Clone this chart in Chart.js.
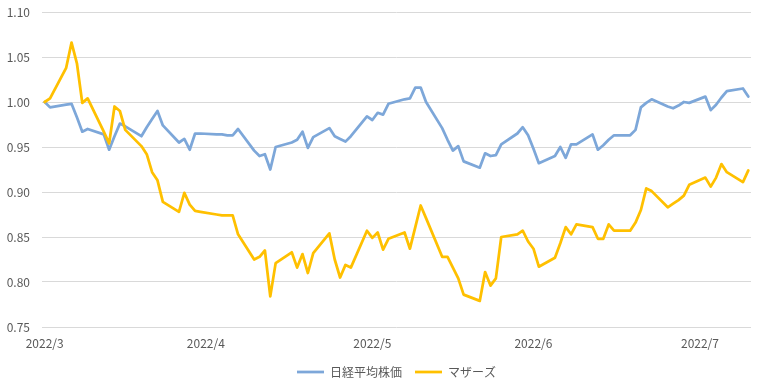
<!DOCTYPE html>
<html>
<head>
<meta charset="utf-8">
<script src="https://cdn.jsdelivr.net/npm/chart.js@4.4.1/dist/chart.umd.min.js"></script>
<style>
  body { margin: 0; background: #fff; }
</style>
</head>
<body>
<canvas id="myChart" width="760" height="392"></canvas>
<script>
// days since 2022/3/1
const days = [0, 1, 4, 5, 6, 7, 8, 11, 12, 13, 14, 15, 18, 19, 20, 21, 22, 25, 26, 27, 28, 29,
    32, 33, 34, 35, 36, 39, 40, 41, 42, 43, 46, 47, 48, 49, 50, 53, 54, 55, 56, 57,
    60, 61, 62, 63, 64, 67, 68, 69, 70, 71, 74, 75, 76, 77, 78, 81, 82, 83, 84, 85,
    88, 89, 90, 91, 92, 95, 96, 97, 98, 99, 102, 103, 104, 105, 106, 109, 110, 111, 112, 113,
    116, 117, 118, 119, 120, 123, 124, 125, 126, 127, 130, 131];

const nikkei = [1.000, 0.994, 0.997, 0.998, 0.983, 0.967, 0.970, 0.964, 0.947, 0.962, 0.976, 0.973,
    0.962, 0.972, 0.981, 0.990, 0.974, 0.955, 0.959, 0.947, 0.965, 0.965,
    0.964, 0.964, 0.963, 0.963, 0.970, 0.946, 0.940, 0.942, 0.925, 0.950,
    0.955, 0.958, 0.967, 0.949, 0.961, 0.971, 0.962, 0.959, 0.956, 0.962,
    0.984, 0.980, 0.988, 0.986, 0.998, 1.003, 1.004, 1.016, 1.016, 1.000,
    0.971, 0.958, 0.946, 0.951, 0.934, 0.927, 0.943, 0.940, 0.941, 0.953,
    0.965, 0.972, 0.963, 0.948, 0.932, 0.940, 0.950, 0.938, 0.953, 0.953,
    0.964, 0.947, 0.952, 0.958, 0.963, 0.963, 0.969, 0.994, 0.999, 1.003,
    0.995, 0.993, 0.996, 1.000, 0.999, 1.006, 0.991, 0.997, 1.005, 1.012, 1.015, 1.006];

const mothers = [1.000, 1.004, 1.038, 1.066, 1.043, 0.999, 1.004, 0.967, 0.954, 0.995, 0.990, 0.969,
    0.951, 0.942, 0.922, 0.913, 0.889, 0.878, 0.899, 0.886, 0.879, 0.878,
    0.875, 0.874, 0.874, 0.874, 0.853, 0.825, 0.828, 0.835, 0.784, 0.821,
    0.833, 0.816, 0.831, 0.810, 0.832, 0.854, 0.825, 0.805, 0.819, 0.816,
    0.857, 0.849, 0.855, 0.836, 0.848, 0.855, 0.837, 0.861, 0.885, 0.871,
    0.828, 0.828, 0.816, 0.804, 0.786, 0.779, 0.811, 0.796, 0.804, 0.850,
    0.853, 0.857, 0.845, 0.837, 0.817, 0.827, 0.843, 0.861, 0.853, 0.864,
    0.861, 0.848, 0.848, 0.864, 0.857, 0.857, 0.866, 0.880, 0.904, 0.901,
    0.883, 0.887, 0.891, 0.896, 0.908, 0.916, 0.906, 0.916, 0.931, 0.922, 0.911, 0.924];

const tickDays = [0, 30, 61, 91, 122];
const tickLabels = ['2022/3', '2022/4', '2022/5', '2022/6', '2022/7'];

const font = "'Noto Sans CJK JP', 'Noto Sans', sans-serif";
const textColor = '#595959';

// excel centres the legend under the plot area, not the whole canvas
const legendShift = {
    id: 'legendShift',
    afterLayout: function(chart) {
        chart.legend.left += 21;
        chart.legend.right += 21;
    }
};

const ctx = document.getElementById('myChart').getContext('2d');
const myChart = new Chart(ctx, {
    type: 'line',
    data: {
        datasets: [{
            label: '日経平均株価',
            data: days.map((d, i) => ({x: d, y: nikkei[i]})),
            borderColor: '#7DA7D9',
            backgroundColor: '#7DA7D9',
            borderWidth: 2.75,
            order: 1,
        }, {
            label: 'マザーズ',
            data: days.map((d, i) => ({x: d, y: mothers[i]})),
            borderColor: '#FFC000',
            backgroundColor: '#FFC000',
            borderWidth: 2.75,
            order: 0,
        }]
    },
    options: {
        responsive: false,
        animation: false,
        layout: {
            padding: {left: 0, right: 9, top: 12, bottom: 4},
        },
        elements: {
            point: { radius: 0 },
            line: { tension: 0, borderJoinStyle: 'round', borderCapStyle: 'round' },
        },
        scales: {
            x: {
                type: 'linear',
                min: -0.5,
                max: 131.5,
                grid: { display: false, drawTicks: false },
                border: { display: false },
                afterBuildTicks: function(scale) {
                    scale.ticks = tickDays.map(v => ({value: v}));
                },
                afterFit: function(scale) {
                    scale.height = 26;
                },
                ticks: {
                    autoSkip: false,
                    maxRotation: 0,
                    padding: 9,
                    color: textColor,
                    font: { family: font, size: 12 },
                    callback: function(value) {
                        return tickLabels[tickDays.indexOf(value)];
                    },
                },
            },
            y: {
                min: 0.75,
                max: 1.10,
                afterFit: function(scale) {
                    scale.width = 42;
                    scale.paddingTop = 0;
                    scale.paddingBottom = 0;
                },
                grid: { color: '#D9D9D9', lineWidth: 1, drawTicks: false },
                border: { display: false },
                ticks: {
                    stepSize: 0.05,
                    padding: 12,
                    color: textColor,
                    font: { family: font, size: 12 },
                    callback: function(value) {
                        return value.toFixed(2);
                    },
                },
            },
        },
        plugins: {
            legend: {
                position: 'bottom',
                labels: {
                    usePointStyle: true,
                    pointStyle: 'line',
                    pointStyleWidth: 27,
                    padding: 13,
                    color: textColor,
                    font: { family: font, size: 12 },
                    sort: (a, b) => a.datasetIndex - b.datasetIndex,
                },
            },
            tooltip: { enabled: false },
        }
    },
    plugins: [legendShift]
});
</script>
</body>
</html>
